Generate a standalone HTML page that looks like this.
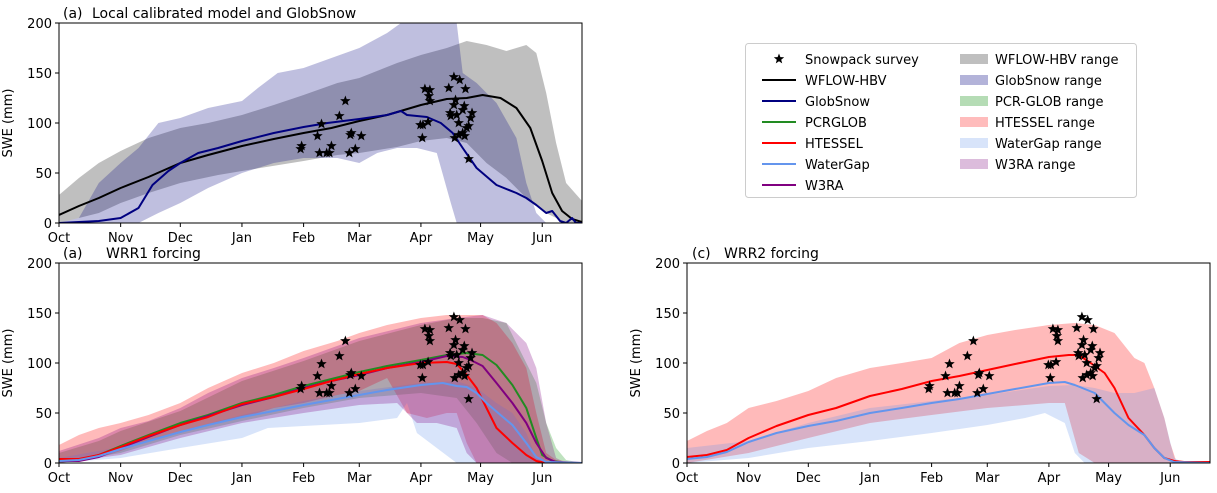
<!DOCTYPE html>
<html><head><meta charset="utf-8">
<style>
html,body{margin:0;padding:0;background:#fff;}
svg{display:block;font-family:"DejaVu Sans","Liberation Sans",sans-serif;}
</style></head>
<body>
<svg id="chart" width="1217" height="493" viewBox="0 0 1217 493" xmlns="http://www.w3.org/2000/svg">
<rect width="1217" height="493" fill="#fff"/>
<g id="legend">
<rect x="745.5" y="43.5" width="391" height="154" rx="3" fill="#fff" stroke="#ccc"/>
</g>
</svg>
<script>
// ---------- data (day since Oct 1 , SWE mm) ----------
const monthLabels = ["Oct","Nov","Dec","Jan","Feb","Mar","Apr","May","Jun"];
const monthDays = [0,31,61,92,123,151,182,212,243];
const yTicks = [0,50,100,150,200];

const surveyDays = [122,121.5,130,131,132,134.6,136,137,144,141,146,146.5,147,149,152,182.7,181.7,183,185.6,184,186.5,186,186.5,196,198.6,201.5,204.4,199.4,198.6,196.7,197,200,201,199,201,203,204,203.8,205,206,207,207.7,206,203];
const surveySWE = [77,74,87,70,99,70,70,77,122,107,70,88,90,74,87,85,98,98,101,134,133,127,122,135,146,143,134,123,118,110,107,108,100,85,88,90,87,117,95,97,105,110,64,113];

// panel a
const wflowLine = [[0,8],[10,17],[20,25],[31,35],[45,46],[61,60],[75,68],[92,77],[108,84],[123,90],[137,95],[151,102],[165,108],[182,118],[195,124],[205,125],[213,128],[222,125],[230,115],[237,95],[243,62],[248,30],[253,12],[258,4],[263,1]];
const wflowUpper = [[0,28],[10,45],[20,60],[31,72],[45,85],[61,95],[75,100],[92,108],[108,118],[123,128],[140,140],[151,145],[170,160],[182,168],[195,175],[205,182],[215,178],[225,172],[235,178],[240,170],[245,130],[250,80],[255,40],[263,22]];
const wflowLower = [[0,0],[20,10],[31,20],[45,30],[61,40],[80,48],[92,52],[123,62],[140,68],[151,70],[170,76],[182,82],[195,85],[205,80],[215,60],[225,45],[235,25],[245,10],[255,0],[263,0]];
const globLine = [[0,0],[20,2],[31,5],[40,15],[47,38],[55,52],[61,60],[70,70],[80,75],[92,82],[108,90],[123,96],[135,100],[151,104],[165,108],[172,112],[175,108],[185,106],[192,100],[198,90],[203,75],[210,55],[220,38],[230,30],[235,25],[240,18],[245,10],[248,12],[252,2],[255,0],[258,5],[260,0],[263,0]];
const globUpper = [[0,0],[10,5],[20,40],[31,60],[40,75],[50,100],[61,105],[75,115],[92,122],[100,135],[110,150],[123,155],[137,165],[151,175],[165,190],[172,200],[200,200],[203,150],[210,140],[220,120],[230,85],[235,40],[240,10],[245,0],[263,0]];
const globLower = [[0,0],[40,0],[50,10],[61,20],[75,35],[92,50],[108,60],[123,65],[140,65],[151,60],[160,70],[170,75],[180,75],[190,70],[197,20],[200,0],[263,0]];

// panel b (WRR1)
const b_pcrLine = [[0,3],[10,3],[20,8],[31,17],[45,28],[61,40],[75,48],[92,60],[108,68],[123,77],[137,84],[151,91],[165,97],[182,103],[195,108],[205,110],[213,108],[220,98],[228,78],[235,55],[240,25],[243,8],[248,2],[255,0],[263,0]];
const b_htesLine = [[0,4],[10,4],[20,8],[31,16],[45,27],[61,38],[75,46],[92,59],[108,66],[123,74],[137,82],[151,89],[165,95],[182,100],[195,101],[200,99],[205,88],[210,75],[215,55],[220,35],[228,20],[235,8],[240,2],[245,0],[263,0]];
const b_w3raLine = [[0,2],[10,2],[20,6],[31,15],[45,26],[61,38],[75,47],[92,58],[108,66],[123,75],[137,82],[151,88],[165,95],[182,101],[195,107],[203,106],[207,103],[213,97],[220,80],[228,60],[235,40],[240,20],[245,5],[250,1],[263,0]];
const b_wgLine = [[0,2],[10,3],[20,7],[31,14],[45,22],[61,31],[75,38],[92,46],[108,52],[123,58],[137,63],[151,68],[165,73],[182,78],[193,80],[200,77],[205,76],[210,70],[215,60],[222,48],[228,38],[235,20],[240,6],[245,1],[263,0]];
const b_htesUpper = [[0,18],[10,28],[20,35],[31,40],[45,48],[61,60],[75,75],[92,90],[108,100],[123,112],[140,122],[151,130],[165,138],[182,145],[195,148],[213,148],[220,140],[228,120],[235,95],[240,50],[245,10],[250,3],[263,0]];
const b_htesLower = [[0,0],[20,5],[31,12],[45,22],[61,30],[75,38],[92,45],[108,55],[123,60],[140,68],[151,72],[165,85],[175,50],[185,45],[195,50],[200,50],[205,20],[210,0],[263,0]];
const b_w3raUpper = [[0,12],[20,25],[31,35],[45,42],[61,55],[75,70],[92,85],[108,95],[123,105],[151,125],[182,140],[200,145],[213,148],[225,140],[235,120],[240,95],[245,40],[250,5],[255,0],[263,0]];
const b_w3raLower = [[0,0],[31,8],[61,25],[92,40],[123,50],[151,58],[170,60],[180,40],[190,40],[200,35],[205,10],[210,0],[263,0]];
const b_pcrUpper = [[0,10],[20,22],[31,32],[61,52],[92,82],[123,102],[151,122],[182,138],[200,145],[213,145],[225,140],[240,80],[245,40],[250,15],[255,3],[263,0]];
const b_pcrLower = [[0,0],[31,10],[61,28],[92,42],[123,55],[151,65],[182,70],[200,65],[210,40],[220,10],[228,0],[263,0]];
const b_wgUpper = [[0,5],[31,16],[61,32],[92,48],[123,62],[151,72],[182,80],[200,82],[210,75],[220,60],[228,50],[235,30],[240,5],[245,0],[263,0]];
const b_wgLower = [[0,0],[31,5],[61,15],[92,25],[105,35],[123,37],[151,40],[170,45],[175,60],[180,30],[190,15],[200,0],[263,0]];

// panel c (WRR2)
const c_htesLine = [[0,6],[10,8],[20,13],[31,25],[45,37],[61,48],[75,55],[92,67],[108,74],[123,82],[137,87],[151,93],[165,99],[182,106],[192,108],[197,108],[203,100],[210,90],[215,75],[222,45],[230,28],[235,15],[240,5],[245,2],[250,1],[263,1]];
const c_wgLine = [[0,4],[10,6],[20,11],[31,21],[45,30],[61,37],[75,42],[92,50],[108,55],[123,60],[137,64],[151,69],[165,74],[182,80],[190,81],[195,78],[205,70],[210,60],[215,50],[222,38],[230,28],[235,15],[240,5],[245,1],[263,0]];
const c_htesUpper = [[0,22],[10,32],[20,40],[31,55],[45,62],[61,72],[75,85],[92,95],[108,100],[123,105],[137,120],[151,128],[165,133],[182,138],[195,140],[205,138],[215,130],[225,105],[230,100],[235,75],[240,45],[243,20],[246,2],[250,0],[263,0]];
const c_htesLower = [[0,0],[31,10],[61,25],[92,40],[123,48],[151,55],[170,58],[182,60],[190,60],[197,10],[205,0],[263,0]];
const c_wgUpper = [[0,15],[31,22],[61,40],[92,55],[123,62],[151,68],[182,77],[195,78],[205,75],[215,70],[225,70],[235,75],[240,45],[245,5],[250,0],[263,0]];
const c_wgLower = [[0,0],[31,5],[61,15],[92,22],[123,30],[151,38],[170,45],[180,50],[190,40],[195,10],[200,0],[263,0]];

// ---------- drawing ----------
const NS = "http://www.w3.org/2000/svg";
const svg = document.getElementById("chart");
const legend = document.getElementById("legend");
const XMAX = 263;
function mk(tag, attrs, parent){ const e=document.createElementNS(NS,tag); for(const k in attrs) e.setAttribute(k,attrs[k]); (parent||svg).appendChild(e); return e; }

function makePanel(id, x0, y0, w, h){
  const sx = d => x0 + d / XMAX * w;
  const sy = v => y0 + h - v / 200 * h;
  const g = mk("g", {});
  
  
  const cp = mk("clipPath", {id: id+"-clip"}, g);
  mk("rect", {x:x0, y:y0, width:w, height:h}, cp);
  const plot = mk("g", {"clip-path":"url(#"+id+"-clip)"}, g);
  
  
  return {g, plot, sx, sy, x0, y0, w, h};
}
function band(p, upper, lower, color, op, name){
  let d = upper.map((q,i)=>(i?"L":"M")+p.sx(q[0]).toFixed(1)+","+p.sy(q[1]).toFixed(1)).join("");
  d += lower.slice().reverse().map(q=>"L"+p.sx(q[0]).toFixed(1)+","+p.sy(q[1]).toFixed(1)).join("") + "Z";
  const e = mk("path", {d, fill:color, "fill-opacity":op, stroke:"none"}, p.plot);
  
  
}
function line(p, pts, color, name){
  const d = pts.map((q,i)=>(i?"L":"M")+p.sx(q[0]).toFixed(1)+","+p.sy(q[1]).toFixed(1)).join("");
  const e = mk("path", {d, fill:"none", stroke:color, "stroke-width":2, "stroke-linejoin":"round"}, p.plot);
  
  
}
function starPath(cx, cy, r){
  let d=""; for(let i=0;i<10;i++){ const a=-Math.PI/2+i*Math.PI/5; const rr=i%2?r*0.42:r; d+=(i?"L":"M")+(cx+rr*Math.cos(a)).toFixed(1)+","+(cy+rr*Math.sin(a)).toFixed(1);} return d+"Z";
}
function stars(p){
  const g = mk("g", {}, p.plot);
  
  
  surveyDays.forEach((d,i)=>{
    const e = mk("path", {d: starPath(p.sx(d), p.sy(surveySWE[i]), 5.5), fill:"#000"}, g);
    
    
  });
}
function axes(p){
  const f = mk("rect", {x:p.x0, y:p.y0, width:p.w, height:p.h, fill:"none", stroke:"#000", "stroke-width":1}, p.g);
  
  
  monthDays.forEach((d,i)=>{
    const x = p.sx(d);
    mk("line", {x1:x, x2:x, y1:p.y0+p.h, y2:p.y0+p.h+4, stroke:"#000"}, p.g);
    const t = mk("text", {x, y:p.y0+p.h+19, "text-anchor":"middle", "font-size":13}, p.g);
    t.textContent = monthLabels[i];
    
    
  });
  yTicks.forEach(v=>{
    const y = p.sy(v);
    mk("line", {x1:p.x0-4, x2:p.x0, y1:y, y2:y, stroke:"#000"}, p.g);
    const t = mk("text", {x:p.x0-7, y:y+5, "text-anchor":"end", "font-size":13}, p.g);
    t.textContent = v;
    
    
  });
  const yl = mk("text", {x:0, y:0, "text-anchor":"middle", "font-size":13, transform:"translate("+(p.x0-47)+","+(p.y0+p.h/2)+") rotate(-90)"}, p.g);
  yl.textContent = "SWE (mm)";
  
  
}
function title(p, a, tx, x1, x2){
  const t1 = mk("text", {x:x1, y:p.y0-5, "font-size":14}, p.g); t1.textContent = a;
  
  
  const t2 = mk("text", {x:x2, y:p.y0-5, "font-size":14}, p.g); t2.textContent = tx;
  
  
}

const C = {gray:"#808080", navy:"#000080", green:"#228B22", red:"#ff0000", blue:"#6495ED", purple:"#800080"};

// Panel a
const pa = makePanel("panel-a", 59, 23, 523, 200);
band(pa, wflowUpper, wflowLower, C.gray, 0.5, "wflow-hbv-range");
band(pa, globUpper, globLower, C.navy, 0.25, "globsnow-range");
line(pa, wflowLine, "#000", "wflow-hbv-line");
line(pa, globLine, C.navy, "globsnow-line");
stars(pa);
axes(pa);
title(pa, "(a)", "Local calibrated model and GlobSnow", 63, 92);

// Panel b
const pb = makePanel("panel-b", 59, 263, 523, 200);
band(pb, b_pcrUpper, b_pcrLower, "#2ca02c", 0.3, "pcrglob-range");
band(pb, b_htesUpper, b_htesLower, C.red, 0.27, "htessel-range");
band(pb, b_wgUpper, b_wgLower, C.blue, 0.25, "watergap-range");
band(pb, b_w3raUpper, b_w3raLower, C.purple, 0.27, "w3ra-range");
line(pb, b_pcrLine, C.green, "pcrglob-line");
line(pb, b_w3raLine, C.purple, "w3ra-line");
line(pb, b_htesLine, C.red, "htessel-line");
line(pb, b_wgLine, C.blue, "watergap-line");
stars(pb);
axes(pb);
title(pb, "(a)", "WRR1 forcing", 63, 106);

// Panel c
const pc = makePanel("panel-c", 687, 263, 523, 200);
band(pc, c_htesUpper, c_htesLower, C.red, 0.27, "htessel-range");
band(pc, c_wgUpper, c_wgLower, C.blue, 0.25, "watergap-range");
line(pc, c_htesLine, C.red, "htessel-line");
line(pc, c_wgLine, C.blue, "watergap-line");
stars(pc);
axes(pc);
title(pc, "(c)", "WRR2 forcing", 692, 724);

// Legend
const legLeft = [["Snowpack survey","star"],["WFLOW-HBV","#000"],["GlobSnow",C.navy],["PCRGLOB",C.green],["HTESSEL",C.red],["WaterGap",C.blue],["W3RA",C.purple]];
const legRight = [["WFLOW-HBV range","#bfbfbf"],["GlobSnow range","#b3b3d9"],["PCR-GLOB range","#b5dcb5"],["HTESSEL range","#ffbcbc"],["WaterGap range","#d8e4fa"],["W3RA range","#dcbcdc"]];
legLeft.forEach((e,i)=>{
  const y = 59 + i*21;
  const g = mk("g", {}, legend);
  
  
  if(e[1]==="star") mk("path", {d:starPath(779, y, 5.5), fill:"#000"}, g);
  else mk("line", {x1:762, x2:796, y1:y, y2:y, stroke:e[1], "stroke-width":2}, g);
  const t = mk("text", {x:805, y:y+5, "font-size":13}, g); t.textContent = e[0];
});
legRight.forEach((e,i)=>{
  const y = 59 + i*21;
  const g = mk("g", {}, legend);
  
  
  mk("rect", {x:960, y:y-5, width:28, height:10, fill:e[1]}, g);
  const t = mk("text", {x:995, y:y+5, "font-size":13}, g); t.textContent = e[0];
});
</script>
</body></html>
